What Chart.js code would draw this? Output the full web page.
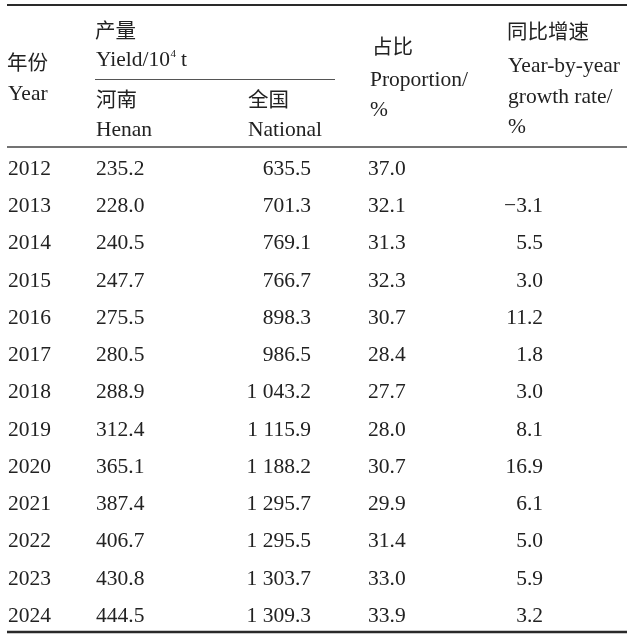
<!DOCTYPE html>
<html>
<head>
<meta charset="utf-8">
<script src="https://cdn.jsdelivr.net/npm/chart.js@4/dist/chart.umd.min.js"></script>
<style>
  html, body { margin: 0; padding: 0; background: #fff; }
  #wrap { position: relative; width: 629px; height: 634px; }
</style>
</head>
<body>
<div id="wrap"><canvas id="c"></canvas></div>
<script>
// ---- data ----
const years = ['2012','2013','2014','2015','2016','2017','2018','2019','2020','2021','2022','2023','2024'];
const henanYield = [235.2, 228.0, 240.5, 247.7, 275.5, 280.5, 288.9, 312.4, 365.1, 387.4, 406.7, 430.8, 444.5];
const nationalYield = [635.5, 701.3, 769.1, 766.7, 898.3, 986.5, 1043.2, 1115.9, 1188.2, 1295.7, 1295.5, 1303.7, 1309.3];
const proportion = [37.0, 32.1, 31.3, 32.3, 30.7, 28.4, 27.7, 28.0, 30.7, 29.9, 31.4, 33.0, 33.9];
const growthRate = [null, -3.1, 5.5, 3.0, 11.2, 1.8, 3.0, 8.1, 16.9, 6.1, 5.0, 5.9, 3.2];

// header texts
const headYear = ['年份', 'Year'];
const headYield = ['产量', 'Yield/10', '4', ' t'];
const headHenan = ['河南', 'Henan'];
const headNational = ['全国', 'National'];
const headProportion = ['占比', 'Proportion/', '%'];
const headGrowth = ['同比增速', 'Year-by-year', 'growth rate/', '%'];

// ---- style / layout ----
const LATIN = '"Liberation Serif", "Times New Roman", serif';
const CJK = '"Noto Sans CJK SC", sans-serif';
const FS = 21.5;
const INK = '#222';

function fmt(v) {
  if (v === null || v === undefined) return '';
  const neg = v < 0;
  let s = Math.abs(v).toFixed(1);
  let [ip, dp] = s.split('.');
  if (ip.length > 3) ip = ip.slice(0, ip.length - 3) + ' ' + ip.slice(-3);
  return (neg ? '\u2212' : '') + ip + '.' + dp;
}

// column anchors on the x scale (0..629) and alignment
const columns = [
  { values: years.map(String), x: 8, align: 'left' },
  { values: henanYield.map(fmt), x: 96, align: 'left' },
  { values: nationalYield.map(fmt), x: 311, align: 'right' },
  { values: proportion.map(fmt), x: 368, align: 'left' },
  { values: growthRate.map(fmt), x: 543, align: 'right' }
];

const tablePlugin = {
  id: 'tablePlugin',
  beforeDraw(chart) {
    const ctx = chart.ctx;
    ctx.save();
    ctx.fillStyle = '#fff';
    ctx.fillRect(0, 0, chart.width, chart.height);
    ctx.restore();
  },
  afterDraw(chart) {
    const ctx = chart.ctx;
    const xs = chart.scales.x, ys = chart.scales.y;
    const X = v => xs.getPixelForValue(v);
    ctx.save();
    ctx.fillStyle = INK;

    function latin(t, x, y, align) {
      ctx.font = FS + 'px ' + LATIN;
      ctx.textAlign = align || 'left';
      ctx.textBaseline = 'alphabetic';
      ctx.fillText(t, X(x), y);
    }
    function cjk(t, x, y) {
      ctx.font = '20.5px ' + CJK;
      ctx.textAlign = 'left';
      ctx.textBaseline = 'middle';
      ctx.fillText(t, X(x), y);
    }

    // header
    cjk(headYear[0], 7, 62.5);
    latin(headYear[1], 8, 100);

    cjk(headYield[0], 95, 30);
    latin(headYield[1], 96, 66);
    ctx.font = FS + 'px ' + LATIN;
    let w1 = ctx.measureText(headYield[1]).width;
    ctx.font = '11px ' + LATIN;
    ctx.textAlign = 'left';
    ctx.fillText(headYield[2], X(96) + w1 + 0.5, 57);
    let w2 = ctx.measureText(headYield[2]).width;
    latin(headYield[3], 96 + w1 + w2, 66);

    cjk(headHenan[0], 96, 99.5);
    latin(headHenan[1], 96, 136);
    cjk(headNational[0], 248, 99.5);
    latin(headNational[1], 248, 136);

    cjk(headProportion[0], 372, 46.5);
    latin(headProportion[1], 370, 86);
    latin(headProportion[2], 370, 116);

    cjk(headGrowth[0], 507, 31);
    latin(headGrowth[1], 508, 72);
    latin(headGrowth[2], 508, 103);
    latin(headGrowth[3], 508, 133);

    // body cells
    columns.forEach(col => {
      col.values.forEach((t, i) => {
        if (!t) return;
        const cy = ys.getPixelForValue(i);
        latin(t, col.x, cy + 7.4, col.align);
      });
    });

    // rules
    ctx.strokeStyle = '#2a2a2a';
    function hline(x0, x1, y, w, color) {
      ctx.beginPath();
      ctx.lineWidth = w;
      ctx.strokeStyle = color;
      ctx.moveTo(X(x0), y);
      ctx.lineTo(X(x1), y);
      ctx.stroke();
    }
    hline(7, 627, 5, 2.2, '#2a2a2a');
    hline(95, 335, 79.5, 1.2, '#555');
    hline(7, 627, 147, 1.3, '#444');
    hline(7, 627, 632, 2.5, '#2a2a2a');

    ctx.restore();
  }
};

new Chart(document.getElementById('c'), {
  type: 'bar',
  data: { labels: years, datasets: [] },
  options: {
    indexAxis: 'y',
    responsive: true,
    maintainAspectRatio: false,
    animation: false,
    layout: { padding: { top: 149, bottom: 1, left: 0, right: 0 } },
    plugins: { legend: { display: false }, tooltip: { enabled: false } },
    scales: {
      x: { type: 'linear', min: 0, max: 629, display: false },
      y: { type: 'category', offset: true, display: false }
    }
  },
  plugins: [tablePlugin]
});
</script>
</body>
</html>
